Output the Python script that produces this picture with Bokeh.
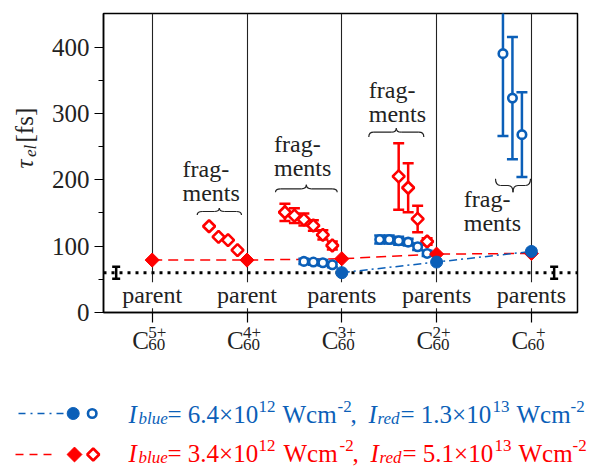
import math
from bokeh.plotting import figure
from bokeh.models import Range1d, FixedTicker, Span
from bokeh.layouts import column
from bokeh.embed import file_html
from bokeh.resources import INLINE

# ---------------- data ----------------
cat_x = [0, 1, 2, 3, 4]
cat_sup = ["5+", "4+", "3+", "2+", "+"]
cat_sub = ["60", "60", "60", "60", "60"]
parent_words = ["parent", "parent", "parents", "parents", "parents"]

red_parent_x = [0, 1, 2, 3, 4]
red_parent_y = [79, 79, 81, 88, 89]
blue_parent_x = [2, 3, 4]
blue_parent_y = [60, 76, 92]

red_frag4_x = [0.6, 0.7, 0.8, 0.9]
red_frag4_y = [130, 114, 109, 94]

red_frag3_x = [1.4, 1.5, 1.6, 1.7, 1.8, 1.9]
red_frag3_y = [151, 146, 140, 131, 117, 101]
red_frag3_e = [13, 11, 9, 8, 7, 6]

red_frag2_x = [2.6, 2.7, 2.8, 2.9]
red_frag2_y = [205, 188, 141, 107]
red_frag2_e = [50, 37, 20, 5]

blue_frag3_x = [1.6, 1.7, 1.8, 1.9]
blue_frag3_y = [77, 76, 75, 72]
blue_frag3_e = [4, 4, 4, 4]

blue_frag2_x = [2.4, 2.5, 2.6, 2.7, 2.8, 2.9]
blue_frag2_y = [110, 110, 108, 106, 99, 89]
blue_frag2_e = [6, 6, 6, 5, 5, 4]

blue_frag1_x = [3.7, 3.8, 3.9]
blue_frag1_y = [390, 323, 268]
blue_frag1_e = [124, 92, 64]

ref_level = 60
ref_err = 9
ref_marks_x = [-0.38, 4.24]

legend_values = [("6.4", "12", "1.3", "13"), ("3.4", "12", "5.1", "13")]

BLUE = "#0b5fb8"
RED = "#ff0000"
INK = "#222222"
FONT = "Liberation Serif"
DESC = 0.22   # baseline correction (fraction of font size)

W, H = 590, 466
# ---------------- geometry (reference pixels) ----------------
X0_PX, DX_PX = 151.7, 94.8          # pixel of first category, pixels per category
Y0_PX, DY_PX = 312.0, 299.0 / 450.5  # pixel of y=0, pixels per unit


def px2x(px):
    return (px - X0_PX) / DX_PX


def px2y(py):
    return (Y0_PX - py) / DY_PX


def no_align(fig):
    try:
        fig.frame_align = False
    except Exception:
        pass


# ---------------- main plot ----------------
p = figure(width=W, height=H, title=None,
           x_range=Range1d(px2x(103), px2x(577)), y_range=Range1d(0, 450.5),
           output_backend="svg", toolbar_location=None,
           min_border_left=103, min_border_right=W - 577, min_border_top=13,
           min_border_bottom=H - 312)
no_align(p)
p.outline_line_color = "black"
p.outline_line_width = 1.5
p.background_fill_color = "white"

p.xaxis.ticker = FixedTicker(ticks=cat_x)
p.xaxis.major_label_overrides = {i: "" for i in cat_x}
p.xaxis.major_label_standoff = 0
p.xaxis.major_tick_out = 10
p.xaxis.major_tick_in = 0
p.xaxis.minor_tick_line_color = None
p.xaxis.axis_line_width = 1.5
p.xaxis.major_tick_line_width = 1.2
p.yaxis.ticker = FixedTicker(ticks=[0, 100, 200, 300, 400], minor_ticks=[50, 150, 250, 350])
p.yaxis.major_tick_out = 9
p.yaxis.major_tick_in = 0
p.yaxis.minor_tick_out = 5
p.yaxis.minor_tick_in = 0
p.yaxis.axis_line_width = 1.5
p.yaxis.major_tick_line_width = 1.2
p.yaxis.major_label_text_font = FONT
p.yaxis.major_label_text_font_size = "25px"
p.yaxis.major_label_text_color = INK
p.yaxis.major_label_standoff = 5
p.xgrid.ticker = FixedTicker(ticks=cat_x)
p.xgrid.grid_line_color = INK
p.xgrid.grid_line_width = 1.1
p.ygrid.visible = False

p.add_layout(Span(location=ref_level, dimension="width", line_color="black",
                  line_width=3, line_dash="3 5", level="underlay"))

hw_ref = 4 / DX_PX
p.segment(x0=ref_marks_x, y0=[ref_level - ref_err] * 2, x1=ref_marks_x, y1=[ref_level + ref_err] * 2,
          line_color="black", line_width=2.5)
for sgn in (-1, 1):
    p.segment(x0=[x - hw_ref for x in ref_marks_x], y0=[ref_level + sgn * ref_err] * 2,
              x1=[x + hw_ref for x in ref_marks_x], y1=[ref_level + sgn * ref_err] * 2,
              line_color="black", line_width=2.5)

p.line(red_parent_x, red_parent_y, line_color=RED, line_width=1.5, line_dash="10 6")
p.line(blue_parent_x, blue_parent_y, line_color=BLUE, line_width=1.5, line_dash="8 4 2 4")


def errbars(xs, ys, es, color, lw, cap_px):
    hw = cap_px / 2 / DX_PX
    lo = [y - e for y, e in zip(ys, es)]
    hi = [y + e for y, e in zip(ys, es)]
    p.segment(x0=xs, y0=lo, x1=xs, y1=hi, line_color=color, line_width=lw)
    p.segment(x0=[x - hw for x in xs], y0=lo, x1=[x + hw for x in xs], y1=lo, line_color=color, line_width=lw)
    p.segment(x0=[x - hw for x in xs], y0=hi, x1=[x + hw for x in xs], y1=hi, line_color=color, line_width=lw)


errbars(red_frag3_x, red_frag3_y, red_frag3_e, RED, 2.5, 11)
errbars(red_frag2_x, red_frag2_y, red_frag2_e, RED, 2.5, 11)
errbars(blue_frag3_x, blue_frag3_y, blue_frag3_e, BLUE, 2.5, 11)
errbars(blue_frag2_x, blue_frag2_y, blue_frag2_e, BLUE, 2.5, 11)
errbars(blue_frag1_x, blue_frag1_y, blue_frag1_e, BLUE, 2.5, 11)

for xs, ys in ((red_frag4_x, red_frag4_y), (red_frag3_x, red_frag3_y), (red_frag2_x, red_frag2_y)):
    p.scatter(xs, ys, marker="square", angle=math.pi / 4, size=8.5, fill_color="white",
              line_color=RED, line_width=2.6)
for xs, ys in ((blue_frag3_x, blue_frag3_y), (blue_frag2_x, blue_frag2_y), (blue_frag1_x, blue_frag1_y)):
    p.scatter(xs, ys, marker="circle", size=8.5, fill_color="white", line_color=BLUE, line_width=2.6)

p.scatter(red_parent_x, red_parent_y, marker="square", angle=math.pi / 4, size=10,
          fill_color=RED, line_color=RED, line_width=1)
p.scatter(blue_parent_x, blue_parent_y, marker="circle", size=12, fill_color=BLUE, line_color=BLUE)

corr24 = DESC * 24
p.text(x=cat_x, y=[px2y(300 - corr24)] * len(cat_x), text=parent_words, text_align="center",
       text_baseline="alphabetic", text_font={"value": FONT}, text_font_size={"value": "24px"},
       text_color=INK, background_fill_color="white")

frag_pos = [(182.0, 174.0), (273.5, 149.0), (368.3, 95.0), (463.3, 204.0)]
fx, fy, ft = [], [], []
for lx, by in frag_pos:
    fx += [px2x(lx), px2x(lx)]
    fy += [px2y(by - corr24), px2y(by + 24 - corr24)]
    ft += ["frag-", "ments"]
p.text(x=fx, y=fy, text=ft, text_align="left", text_baseline="alphabetic",
       text_font={"value": FONT}, text_font_size={"value": "24px"}, text_color=INK)

braces = [(196.7, 241.0, 214.5, 211.0, 207.5),
          (275.0, 336.7, 191.7, 188.3, 184.3),
          (368.3, 423.3, 136.5, 131.7, 127.7),
          (495.0, 530.0, 178.3, 185.0, 191.7)]
q = dict(x0=[], y0=[], x1=[], y1=[], cx=[], cy=[])
s = dict(x0=[], y0=[], x1=[], y1=[])
r = 5.0
for l, rt, ye, yb, yt in braces:
    xm = (l + rt) / 2
    for (a, b, c, d, e, f) in ((l, ye, l + r, yb, l, yb), (xm - r, yb, xm, yt, xm, yb),
                               (xm + r, yb, xm, yt, xm, yb), (rt, ye, rt - r, yb, rt, yb)):
        q["x0"].append(px2x(a)); q["y0"].append(px2y(b))
        q["x1"].append(px2x(c)); q["y1"].append(px2y(d))
        q["cx"].append(px2x(e)); q["cy"].append(px2y(f))
    for (a, b) in ((l + r, xm - r), (xm + r, rt - r)):
        s["x0"].append(px2x(a)); s["y0"].append(px2y(yb))
        s["x1"].append(px2x(b)); s["y1"].append(px2y(yb))
p.quadratic(x0=q["x0"], y0=q["y0"], x1=q["x1"], y1=q["y1"], cx=q["cx"], cy=q["cy"],
            line_color=INK, line_width=1.2)
p.segment(x0=s["x0"], y0=s["y0"], x1=s["x1"], y1=s["y1"], line_color=INK, line_width=1.2)

# ---------------- transparent overlay for texts outside the frame ----------------
ov = figure(width=W, height=H, title=None, x_range=Range1d(0, W), y_range=Range1d(0, H),
            output_backend="svg", toolbar_location=None, x_axis_type=None, y_axis_type=None,
            min_border=0, min_border_left=0, min_border_right=0, min_border_top=0,
            min_border_bottom=0,
            styles={"position": "absolute", "top": "0px", "left": "0px"})
no_align(ov)
ov.outline_line_color = None
ov.background_fill_color = None
ov.border_fill_color = None
ov.grid.visible = False


def oy(py):
    return H - py


def put(x, py, t, size, color=INK, style="normal", angle=0.0):
    c = DESC * size
    if angle == 0.0:
        py = py - c
    else:
        x = x - c
    ov.text(x=[x], y=[oy(py)], text=[t], angle=angle, text_align="left", text_baseline="alphabetic",
            text_font={"value": FONT}, text_font_size={"value": f"{size}px"},
            text_font_style=style, text_color=color)


# y-axis label
ang = math.pi / 2
put(29, 168, "τ", 25, style="italic", angle=ang)
put(34, 156.5, "el", 17, style="italic", angle=ang)
put(29, 142, "[fs]", 25, angle=ang)

# x tick labels C_60^{n+}
for xi, sup, sub in zip(cat_x, cat_sup, cat_sub):
    tx = X0_PX + DX_PX * xi
    put(tx - 20.0, 345, "C", 25)
    shift = 0 if len(sup) == 2 else 8.5
    put(tx - 4.0 + shift, 336, sup, 17)
    put(tx - 4.0, 348, sub, 17)

# legend
y1 = oy(413)
y2 = oy(454)
ov.line([18, 63], [y1, y1], line_color=BLUE, line_width=1.5, line_dash="7 5 2 5")
ov.scatter([72.7], [y1], marker="circle", size=12, fill_color=BLUE, line_color=BLUE)
ov.scatter([91.7], [y1], marker="circle", size=8.5, fill_color="white", line_color=BLUE, line_width=2.6)
ov.line([15, 56], [y2, y2], line_color=RED, line_width=1.5, line_dash="8 6")
ov.scatter([74], [y2], marker="square", angle=math.pi / 4, size=10.5, fill_color=RED, line_color=RED)
ov.scatter([92.7], [y2], marker="square", angle=math.pi / 4, size=8.5, fill_color="white",
           line_color=RED, line_width=2.6)

legend_colors = [BLUE, RED]
legend_base = [419, 458]
legend_xpos = [
    [128, 138, 167, 258, 282, 337, 350, 368, 377, 400, 492, 516, 570],
    [128, 138, 167, 258, 283, 339, 352, 370, 379, 402, 494, 518, 572],
]
for vals, col, base, xp in zip(legend_values, legend_colors, legend_base, legend_xpos):
    pieces = [("I", 25, "italic", 0), ("blue", 17, "italic", 3), ("= " + vals[0] + "×10", 25, "normal", 0),
              (vals[1], 17, "normal", -9), ("Wcm", 25, "normal", 0), ("-2", 17, "normal", -9),
              (",", 25, "normal", 0), ("I", 25, "italic", 0), ("red", 17, "italic", 3),
              ("= " + vals[2] + "×10", 25, "normal", 0), (vals[3], 17, "normal", -9),
              ("Wcm", 25, "normal", 0), ("-2", 17, "normal", -9)]
    for (t, fs, st, dy), x in zip(pieces, xp):
        put(x, base + dy, t, fs, color=col, style=st)

layout = column(p, ov, spacing=0)
open("out.html", "w").write(file_html(layout, INLINE))
